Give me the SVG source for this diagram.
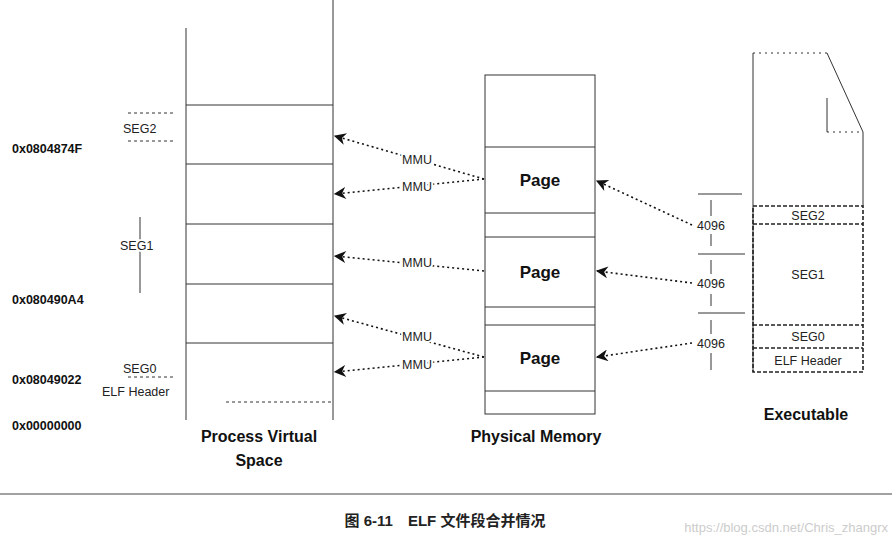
<svg xmlns="http://www.w3.org/2000/svg" width="892" height="546" viewBox="0 0 892 546">
<style>
.l{stroke:#333;stroke-width:1;fill:none}
.d{stroke:#222;stroke-width:1.6;stroke-dasharray:4 2;fill:none}
.c{stroke:#111;stroke-width:1.6;stroke-dasharray:2 3;fill:none}
.t{font-family:"Liberation Sans",Arial,sans-serif;font-size:12.5px;fill:#222}
.b{font-family:"Liberation Sans",Arial,sans-serif;font-weight:bold;fill:#111}
</style>
<defs><marker id="a" viewBox="0 0 10 10" refX="9" refY="5" markerUnits="userSpaceOnUse" markerWidth="14" markerHeight="12" orient="auto"><path d="M10,5 L0,0 L3,5 L0,10Z" fill="#111"/></marker></defs>
<rect width="892" height="546" fill="#fff"/>
<g id="addresses">
<text class="b" x="12" y="153" font-size="12.5">0x0804874F</text>
<text class="b" x="12" y="304" font-size="12.5">0x080490A4</text>
<text class="b" x="12" y="384" font-size="12.5">0x08049022</text>
<text class="b" x="12" y="430" font-size="12.5">0x00000000</text>
</g>
<g id="virtual">
<path class="l" d="M186,28 V420 M333,0 V420 M186,105 H333 M186,164 H333 M186,224 H333 M186,284 H333 M186,343 H333"/>
<path class="l" d="M226,402 H333" stroke-dasharray="3 3"/>
<path class="l" d="M128,113 H175 M128,141 H175 M128,377 H175" stroke-dasharray="3 3"/>
<path class="l" d="M140,217 V293"/>
<text class="t" x="123" y="133">SEG2</text>
<text class="t" x="120" y="250" fill="#fff" stroke="#fff" stroke-width="4">SEG1</text>
<text class="t" x="120" y="250">SEG1</text>
<text class="t" x="123" y="373">SEG0</text>
<text class="t" x="102" y="396">ELF Header</text>
<text class="b" x="259" y="442" font-size="16" text-anchor="middle">Process Virtual</text>
<text class="b" x="259" y="466" font-size="16" text-anchor="middle">Space</text>
</g>
<g id="physical">
<rect class="l" x="485" y="75" width="110" height="339"/>
<path class="l" d="M485,147 H595 M485,213 H595 M485,237 H595 M485,307 H595 M485,325 H595 M485,391 H595"/>
<text class="b" x="540" y="186" font-size="17" text-anchor="middle">Page</text>
<text class="b" x="540" y="278" font-size="17" text-anchor="middle">Page</text>
<text class="b" x="540" y="364" font-size="17" text-anchor="middle">Page</text>
<text class="b" x="536" y="442" font-size="16" text-anchor="middle">Physical Memory</text>
</g>
<g id="executable">
<path class="l" d="M753,53 V372 M863,132 V206 M827,53 L863,132 M827,98 V132"/>
<path class="l" d="M753,53 H827 M827,132 H863" stroke-dasharray="2 4"/>
<path class="d" d="M753,206 H863 V372 H753 Z M753,224 H863 M753,325 H863 M753,348 H863"/>
<text class="t" x="808" y="220" text-anchor="middle">SEG2</text>
<text class="t" x="808" y="279" text-anchor="middle">SEG1</text>
<text class="t" x="808" y="341" text-anchor="middle">SEG0</text>
<text class="t" x="808" y="365" text-anchor="middle">ELF Header</text>
<text class="b" x="806" y="420" font-size="16" text-anchor="middle">Executable</text>
</g>
<g id="scale">
<path class="l" d="M698,194 H742 M698,254 H745 M698,313 H745 M711,200 V216 M711,234 V246 M711,260 V274 M711,294 V306 M711,320 V334 M711,353 V370"/>
<text class="t" x="711" y="230" text-anchor="middle">4096</text>
<text class="t" x="711" y="288" text-anchor="middle">4096</text>
<text class="t" x="711" y="348" text-anchor="middle">4096</text>
</g>
<g id="connectors">
<path class="c" d="M484,179 L335,136" marker-end="url(#a)"/>
<path class="c" d="M484,179 L335,194" marker-end="url(#a)"/>
<path class="c" d="M484,271 L335,256" marker-end="url(#a)"/>
<path class="c" d="M484,357 L335,316" marker-end="url(#a)"/>
<path class="c" d="M484,357 L335,372" marker-end="url(#a)"/>
<path class="c" d="M692,225 L597,181" marker-end="url(#a)"/>
<path class="c" d="M692,283 L597,271" marker-end="url(#a)"/>
<path class="c" d="M692,343 L597,357" marker-end="url(#a)"/>
<g class="t">
<text x="417" y="164" fill="#fff" stroke="#fff" stroke-width="4" text-anchor="middle">MMU</text><text x="417" y="164" text-anchor="middle">MMU</text>
<text x="417" y="191" fill="#fff" stroke="#fff" stroke-width="4" text-anchor="middle">MMU</text><text x="417" y="191" text-anchor="middle">MMU</text>
<text x="417" y="267" fill="#fff" stroke="#fff" stroke-width="4" text-anchor="middle">MMU</text><text x="417" y="267" text-anchor="middle">MMU</text>
<text x="417" y="341" fill="#fff" stroke="#fff" stroke-width="4" text-anchor="middle">MMU</text><text x="417" y="341" text-anchor="middle">MMU</text>
<text x="417" y="369" fill="#fff" stroke="#fff" stroke-width="4" text-anchor="middle">MMU</text><text x="417" y="369" text-anchor="middle">MMU</text>
</g>
</g>
<g id="caption">
<path d="M0,494 H892" stroke="#444" stroke-width="1.2"/>
<text x="445" y="526" text-anchor="middle" font-family="'Liberation Sans','Noto Sans CJK SC',sans-serif" font-size="15" font-weight="bold" fill="#222">图 6-11　ELF 文件段合并情况</text>
<text x="888" y="532" text-anchor="end" font-family="'Liberation Sans',sans-serif" font-size="13" fill="#ccc">https://blog.csdn.net/Chris_zhangrx</text>
</g>
</svg>
